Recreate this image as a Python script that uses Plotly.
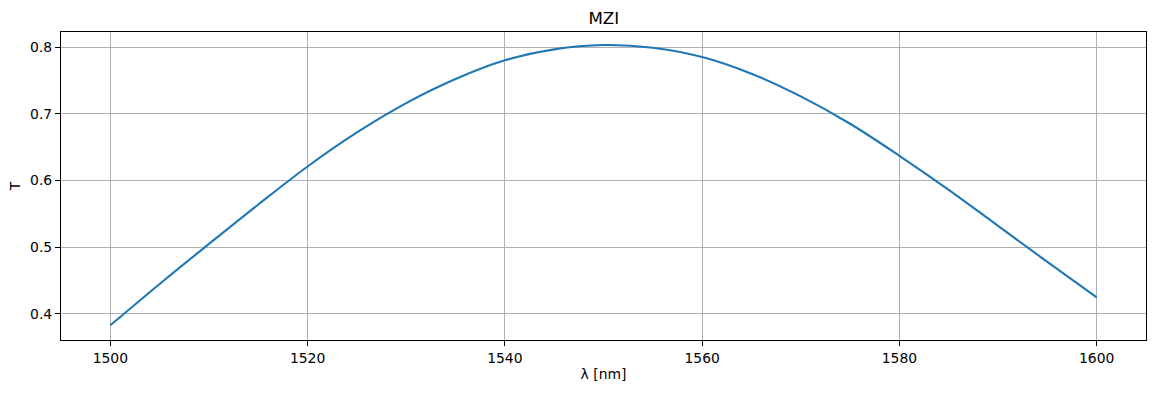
import plotly.graph_objects as go

wavelength_nm = [1500, 1505, 1510, 1515, 1520, 1525, 1530, 1535, 1540, 1545, 1550,
                 1555, 1560, 1565, 1570, 1575, 1580, 1585, 1590, 1595, 1600]
transmission = [0.383, 0.445, 0.505, 0.564, 0.621, 0.672, 0.716, 0.752, 0.780, 0.7965, 0.803,
                0.799, 0.785, 0.760, 0.726, 0.685, 0.637, 0.586, 0.532, 0.478, 0.425]
x_ticks = [1500, 1520, 1540, 1560, 1580, 1600]
y_ticks = [0.4, 0.5, 0.6, 0.7, 0.8]

FONT = "DejaVu Sans"

fig = go.Figure()
fig.add_trace(go.Scatter(
    x=wavelength_nm, y=transmission, mode="lines",
    line=dict(color="#1f77b4", width=2.1, shape="spline", smoothing=1.0),
    showlegend=False, hoverinfo="x+y",
))

axis_common = dict(
    showline=True, linecolor="black", linewidth=1.1, mirror=True,
    showgrid=True, gridcolor="#b0b0b0", gridwidth=1.1,
    ticks="outside", ticklen=5, tickwidth=1.1, tickcolor="black",
    zeroline=False, automargin=False,
    tickfont=dict(family=FONT, size=13.9, color="black"),
)

fig.update_layout(
    width=1156, height=393,
    margin=dict(l=61, r=10, t=32, b=53, autoexpand=False),
    paper_bgcolor="white", plot_bgcolor="white",
    font=dict(family=FONT, color="black"),
    title=dict(text="MZI", x=(61.3 + 1146.3) / 2 / 1156, xanchor="center",
               xref="container",
               y=1 - 18 / 393, yanchor="middle", yref="container",
               font=dict(family=FONT, size=16.7, color="black")),
    xaxis=dict(range=[1495, 1605], tickvals=x_ticks,
               ticktext=[str(v) for v in x_ticks],
               title=dict(text="λ [nm]", standoff=4,
                          font=dict(family=FONT, size=13.9, color="black")),
               **axis_common),
    yaxis=dict(range=[0.361, 0.8225], tickvals=y_ticks,
               ticktext=[f"{v:.1f}" for v in y_ticks],
               title=dict(text="T", standoff=6,
                          font=dict(family=FONT, size=13.9, color="black")),
               **axis_common),
)

fig.write_html(
    "out.html",
    config={"displayModeBar": False},
    post_script="document.body.style.margin='0';document.body.style.overflow='hidden';",
)
